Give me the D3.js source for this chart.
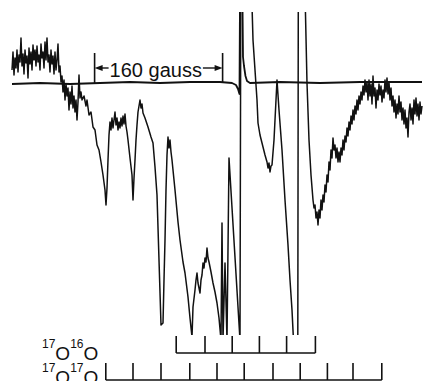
<!DOCTYPE html>
<html>
<head>
<meta charset="utf-8">
<script src="https://cdn.jsdelivr.net/npm/d3@7"></script>
<style>
  html, body { margin: 0; padding: 0; background: #fff; }
  svg { display: block; }
</style>
</head>
<body>
<figure id="epr" style="margin:0"></figure>
<script>
// field offset (gauss) from line centre, signal (arb. units, 0 = baseline)
const enrichedTrace = [
  [-291.25, 6.5], [-290, 15.5], [-288.75, 4], [-287.5, 12.5], [-286.25, 7.5], [-285, 16.5],
  [-283.75, 5.5], [-282.5, 14], [-281.25, 10.5], [-280, 22.5], [-278.75, 8.5], [-277.5, 14.5],
  [-276.25, 4.5], [-275, 16.5], [-273.75, 10], [-272.5, 13.5], [-271.25, 2.5], [-270, 17.5],
  [-268.75, 9.5], [-267.5, 15.5], [-266.25, 6.5], [-265, 19], [-263.75, 11.5], [-262.5, 16.5],
  [-261.25, 8.5], [-260, 18.5], [-258.75, 10.5], [-257.5, 14], [-256.25, 6.5], [-255, 19.5],
  [-253.75, 12.5], [-252.5, 15.5], [-251.25, 7.5], [-250, 20.5], [-248.75, 11.5], [-247.5, 22.5],
  [-246.25, 10.5], [-245, 14], [-243.75, 5.5], [-242.5, 16.5], [-241.25, 9.5], [-240, 13.5],
  [-238.75, 4.5], [-237.5, 15.5], [-236.25, 6.5], [-235, 11.5], [-233.75, 19.5], [-232.5, 5.5],
  [-231.25, 8.5], [-230, 0.5], [-228.75, 3.5], [-227.5, -4.5], [-226.25, 1.5], [-225, -8.5],
  [-223.75, -0.5], [-222.5, -6.5], [-221.25, -2.5], [-220, -13.5], [-218.75, -4.5], [-217.5, -10.5],
  [-216.25, -1.5], [-215, -12.5], [-213.75, -6.5], [-212.5, -14.5], [-211.25, -8.5], [-210, -18.5],
  [-208.75, -9.5], [-207.5, 4], [-206.25, -7.5], [-205, -4.5], [-203.75, -8.5], [-201.25, -6.5],
  [-198.75, -11.5], [-197.5, -8.5], [-195, -16], [-192.5, -14.5], [-190, -22], [-187.5, -23.5],
  [-185, -31], [-182.5, -33.5], [-180, -39.5], [-177.5, -46], [-175, -53.5], [-173.75, -61],
  [-172.5, -52.5], [-171.25, -38.5], [-170, -26], [-168.75, -19.5], [-167.5, -23.5], [-166.25, -17.5],
  [-165, -22.5], [-163.75, -18.5], [-162.5, -14.5], [-161.25, -21], [-160, -17.5], [-158.75, -23.5],
  [-157.5, -19.5], [-156.25, -22.5], [-155, -17.5], [-153.75, -21.5], [-152.5, -16.5], [-151.25, -20.5],
  [-150, -15.5], [-148.75, -21.5], [-147.5, -24.5], [-146.25, -28.5], [-143.75, -37.5], [-141.25, -46],
  [-140, -58.5], [-138.75, -47.5], [-137.5, -38.5], [-136.25, -28.5], [-135, -21], [-133.75, -14.5],
  [-131.25, -8.5], [-130, -12.5], [-128.75, -10.5], [-127.5, -15], [-125, -17.5], [-121.25, -22],
  [-117.5, -27], [-115, -30], [-112.5, -42], [-110, -56], [-107.5, -88.5], [-105, -121],
  [-102.5, -120], [-101.25, -98.5], [-100, -78.5], [-98.75, -53.5], [-97.5, -36], [-96.25, -27],
  [-95, -32.5], [-93.75, -28.5], [-92.5, -34.5], [-91.25, -38.5], [-87.5, -53.5], [-83.75, -69.5],
  [-81.25, -78.5], [-77.5, -89.5], [-75, -95], [-71.25, -107], [-68.75, -117.5], [-66.25, -127],
  [-65, -112], [-62.5, -103.5], [-61.25, -98.5], [-60, -95], [-58.75, -100], [-57.5, -102.5],
  [-56.25, -105], [-55, -98.5], [-53.75, -96], [-52.5, -90], [-51.25, -92.5], [-50, -87.5],
  [-48.75, -89.5], [-47.5, -82.5], [-46.25, -87.5], [-45, -89.5], [-42.5, -94.5], [-40, -100],
  [-37.5, -104.5], [-35, -110], [-32.5, -117.5], [-30, -128.5], [-28.75, -70], [-27.5, -128.5],
  [-25, -90], [-22.5, -128.5], [-20, -37.5], [-6.25, -128.5], [-5, 91.5], [5, 91.5],
  [10, 21.5], [12.5, 6.5], [15, -8.5], [16.25, -20], [18.75, -26], [22.5, -32],
  [25, -36], [27.5, -39.5], [28.75, -42.5], [30, -40], [31.25, -44.5], [32.5, -41.5],
  [33.75, -41], [36.25, -28.5], [38.75, -8.5], [40, 1.5], [42.5, -13.5], [46.25, -33.5],
  [50, -58.5], [53.75, -81], [56.25, -98.5], [58.75, -113.5], [60.6, -128.5], [66, -128.5],
  [66.8, 91.5], [72.5, 91.5], [77.5, 0], [80, -28.5], [82.5, -46], [85, -58.5],
  [86.25, -62.5], [87.5, -61], [88.75, -67.5], [90, -64.5], [91.25, -71], [92.5, -63.5],
  [93.75, -67.5], [95, -58.5], [96.25, -63.5], [97.5, -56], [98.75, -59.5], [100, -51],
  [101.25, -54.5], [102.5, -46], [103.75, -49.5], [105, -39.5], [106.25, -43.5], [107.5, -33.5],
  [108.75, -37.5], [110, -27.5], [111.25, -33.5], [112.5, -31], [113.75, -37.5], [115, -32.5],
  [116.25, -39.5], [117.5, -34.5], [118.75, -39.5], [120, -32.5], [121.25, -36], [122.5, -28.5],
  [123.75, -33.5], [125, -26.5], [126.25, -29.5], [127.5, -22.5], [128.75, -26.5], [130, -19.5],
  [131.25, -23.5], [132.5, -16.5], [133.75, -20.5], [135, -13.5], [136.25, -18.5], [137.5, -11.5],
  [138.75, -15.5], [140, -8.5], [141.25, -13.5], [142.5, -6.5], [143.75, -10.5], [145, -4.5],
  [146.25, -8.5], [147.5, -1.5], [148.75, -6], [150, 1.5], [151.25, -4.5], [152.5, 0.5],
  [153.75, -8.5], [155, 1.5], [156.25, -6.5], [157.5, -0.5], [158.75, -10.5], [160, 3.5],
  [161.25, -6.5], [162.5, -2.5], [163.75, -12.5], [165, -3.5], [166.25, -8.5], [167.5, -0.5],
  [168.75, -6], [170, -1.5], [171.25, -9.5], [172.5, -3.5], [173.75, -7.5], [175, 1.5],
  [176.25, -4.5], [177.5, 2.5], [178.75, -5.5], [180, 0.5], [181.25, -8.5], [182.5, -2.5],
  [183.75, -11.5], [185, -6.5], [186.25, -14.5], [187.5, -8.5], [188.75, -17.5], [190, -10.5],
  [191.25, -15.5], [192.5, -6.5], [193.75, -14.5], [195, -9.5], [196.25, -18.5], [197.5, -12.5],
  [198.75, -20.5], [200, -13.5], [201.25, -22.5], [202.5, -17.5], [203.75, -27], [205, -14.5],
  [206.25, -10.5], [207.5, -18.5], [208.75, -12.5], [210, -20.5], [211.25, -8.5], [212.5, -15.5],
  [213.75, -7.5], [215, -16.5], [216.25, -10.5], [217.5, -18.5], [218.75, -9.5], [220, -15.5],
  [221.25, -11.5]
];

const referenceTrace = [
  [-291.25, -0.5], [-256.25, 0], [-218.75, -0.5], [-181.25, 0], [-143.75, 0.5], [-106.25, 0],
  [-68.75, 0.5], [-31.25, 0.5], [-16.25, 0], [-11.25, -1], [-8.75, -3], [-6.9, -5.5],
  [-5.6, 91.5], [-4.4, 91.5], [-2.5, 13], [-1.25, 8.5], [0.6, 3.5], [2.5, 1],
  [6.25, 0], [43.75, 0.5], [93.75, 0], [143.75, 0.5], [181.25, 0.5], [221.25, 0.5]
];

// stick diagrams (gauss)
const sticks1716 = [-86, -50, -16, 18, 52, 88];
const sticks1717 = [-174, -140, -105, -69, -35, -1, 35, 69, 103, 135, 171];
const stickLabels = [['17', 'O', '16', 'O'], ['17', 'O', '17', 'O']];

// field scale bar
const scaleBar = [-188, -28];
const scaleBarText = '160 gauss';

const width = 426;
const height = 381;
const ink = '#111';

const svg = d3.select('#epr')
  .append('svg')
  .attr('width', width)
  .attr('height', height)
  .style('font-family', '"Liberation Sans", Arial, Helvetica, sans-serif');

const xScale = d3.scaleLinear()
  .domain([-291.25, 221.25])
  .range([12, 422]);

const yScale = d3.scaleLinear()
  .domain([-126, 35.5])
  .range([335, 12]);

svg.append('clipPath')
  .attr('id', 'plot-clip')
  .append('rect')
  .attr('x', 0)
  .attr('y', yScale.range()[1])
  .attr('width', width)
  .attr('height', yScale.range()[0] - yScale.range()[1]);

const line = d3.line()
  .x(d => xScale(d[0]))
  .y(d => yScale(d[1]));

const plot = svg.append('g').attr('clip-path', 'url(#plot-clip)');

plot.append('path')
  .attr('d', line(referenceTrace))
  .attr('fill', 'none')
  .attr('stroke', ink)
  .attr('stroke-width', 1.8)
  .attr('stroke-linejoin', 'round');

plot.append('path')
  .attr('d', line(enrichedTrace))
  .attr('fill', 'none')
  .attr('stroke', ink)
  .attr('stroke-width', 1.5)
  .attr('stroke-linejoin', 'round');

// scale bar: end ticks, arrows, label
const barTop = 15;
const arrowY = 7.5;
svg.selectAll('.bar-tick')
  .data(scaleBar)
  .join('line')
  .attr('class', 'bar-tick')
  .attr('x1', d => xScale(d))
  .attr('x2', d => xScale(d))
  .attr('y1', yScale(barTop))
  .attr('y2', yScale(0))
  .attr('stroke', ink)
  .attr('stroke-width', 1.6);

const label = svg.append('text')
  .attr('x', xScale(scaleBar[0]) + 15)
  .attr('y', 77)
  .attr('font-size', 20)
  .attr('fill', ink)
  .text(scaleBarText);

const labelBox = label.node().getBBox();
const arrows = [
  { tip: xScale(scaleBar[0]), tail: labelBox.x - 1, dir: -1 },
  { tip: xScale(scaleBar[1]), tail: labelBox.x + labelBox.width + 1, dir: 1 }
];
arrows.forEach(a => {
  const yA = yScale(arrowY);
  svg.append('line')
    .attr('x1', a.tail).attr('x2', a.tip - a.dir * 5)
    .attr('y1', yA).attr('y2', yA)
    .attr('stroke', ink).attr('stroke-width', 1.4);
  svg.append('path')
    .attr('d', `M${a.tip},${yA} L${a.tip - a.dir * 8},${yA - 3} L${a.tip - a.dir * 8},${yA + 3} Z`)
    .attr('fill', ink);
});

// stick diagrams
const rows = [
  { sticks: sticks1716, top: 336, base: 353, labelY: 360 },
  { sticks: sticks1717, top: 363, base: 380, labelY: 384 }
];

rows.forEach((row, i) => {
  const g = svg.append('g');
  g.append('line')
    .attr('x1', xScale(d3.min(row.sticks)))
    .attr('x2', xScale(d3.max(row.sticks)))
    .attr('y1', row.base).attr('y2', row.base)
    .attr('stroke', ink).attr('stroke-width', 1.3);
  g.selectAll('.stick')
    .data(row.sticks)
    .join('line')
    .attr('class', 'stick')
    .attr('x1', d => xScale(d)).attr('x2', d => xScale(d))
    .attr('y1', row.top).attr('y2', row.base)
    .attr('stroke', ink).attr('stroke-width', 1.6);

  const t = g.append('text')
    .attr('x', 42)
    .attr('y', row.labelY)
    .attr('fill', ink);
  stickLabels[i].forEach((s, j) => {
    const sup = j % 2 === 0;
    t.append('tspan')
      .attr('font-size', sup ? 12 : 19)
      .attr('dy', sup ? (j === 0 ? -12 : -12) : 12)
      .text(s);
  });
});
</script>
</body>
</html>
